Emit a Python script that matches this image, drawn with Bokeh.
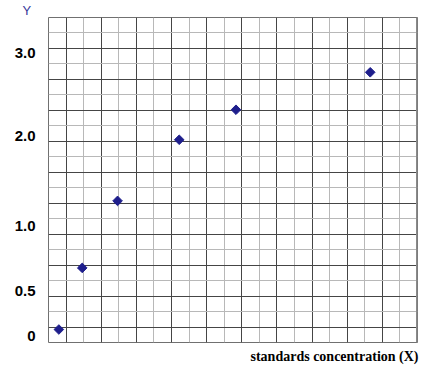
from bokeh.plotting import figure
from bokeh.models import FixedTicker, Range1d, Span, Title
from bokeh.embed import file_html
from bokeh.resources import INLINE

# Data in chart grid divisions (21 x 21 grid)
conc_x = [0.59, 1.92, 3.93, 7.44, 10.67, 18.31]
resp_y = [0.84, 4.82, 9.15, 13.10, 15.04, 17.46]

# Y tick labels (hand-placed, non-linear) and their grid positions
y_tick_labels = ["0", "0.5", "1.0", "2.0", "3.0"]
y_tick_pos = [0.41, 3.33, 7.51, 13.32, 18.69]

x_label = "standards concentration (X)"
y_label = "Y"

p = figure(width=421, height=380, output_backend="svg", toolbar_location=None,
           x_range=Range1d(0, 21), y_range=Range1d(0, 21),
           x_axis_location=None, y_axis_location="left",
           min_border_left=48, min_border_right=4, min_border_top=17, min_border_bottom=38,
           background_fill_color="white", border_fill_color="white")

p.outline_line_color = "#707070"
p.outline_line_width = 1

for g in (p.xgrid[0], p.ygrid[0]):
    g.ticker = FixedTicker(ticks=list(range(1, 21, 2)), minor_ticks=list(range(2, 21, 2)))
    g.grid_line_color = "#454545"
    g.grid_line_width = 1
    g.minor_grid_line_color = "#b8b8b8"
    g.minor_grid_line_width = 1

ax = p.yaxis[0]
ax.ticker = FixedTicker(ticks=y_tick_pos)
ax.major_label_overrides = {v: t for v, t in zip(y_tick_pos, y_tick_labels)}
ax.axis_line_color = None
ax.major_tick_line_color = None
ax.minor_tick_line_color = None
ax.major_tick_out = 0
ax.major_tick_in = 0
ax.major_label_standoff = 13
ax.major_label_text_font = "Liberation Sans"
ax.major_label_text_font_style = "bold"
ax.major_label_text_font_size = "15px"
ax.major_label_text_color = "black"

p.add_layout(Span(location=21, dimension="height", line_color="#8a8a8a", line_width=3))

p.scatter(conc_x, resp_y, marker="square", angle=0.785398, size=6.8,
          fill_color="#1e1e8c", line_color="#1e1e8c")

p.add_layout(Title(text=x_label, align="right", text_font="Liberation Serif",
                   text_font_style="bold", text_font_size="14px", text_color="black",
                   standoff=9, offset=-1), "below")
p.add_layout(Title(text=y_label, align="left", text_font="Liberation Sans",
                   text_font_style="normal", text_font_size="13px", text_color="#3b3b9b",
                   standoff=0, offset=-26), "above")

open("out.html", "w").write(file_html(p, INLINE))
